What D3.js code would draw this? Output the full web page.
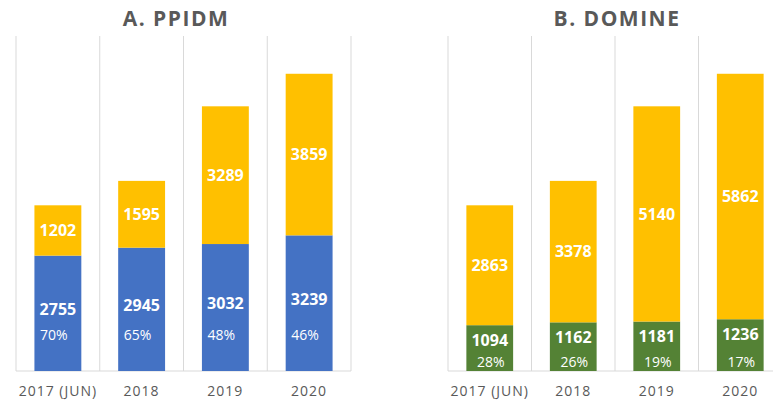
<!DOCTYPE html>
<html>
<head>
<meta charset="utf-8">
<script src="https://cdn.jsdelivr.net/npm/d3@7"></script>
<style>
  body { margin: 0; background: #fff; }
  text { font-family: "Open Sans", sans-serif; }
</style>
</head>
<body>
<div id="chart"></div>
<script>
var years = ["2017 (JUN)", "2018", "2019", "2020"];

// A. PPIDM
var ppidmBase = [2755, 2945, 3032, 3239];
var ppidmTop = [1202, 1595, 3289, 3859];
var ppidmPct = ["70%", "65%", "48%", "46%"];

// B. DOMINE
var domineBase = [1094, 1162, 1181, 1236];
var domineTop = [2863, 3378, 5140, 5862];
var dominePct = ["28%", "26%", "19%", "17%"];

var W = 773, H = 400;
var svg = d3.select("#chart").append("svg")
  .attr("width", W)
  .attr("height", H);

var y = d3.scaleLinear().domain([0, 8000]).range([371, 36]);

function panel(opt) {
  var g = svg.append("g");
  var x = d3.scaleBand().domain(years).range(opt.range);
  var bw = x.bandwidth();

  // vertical gridlines at band edges
  var edges = years.map(function(d) { return x(d); }).concat([opt.range[1]]);
  g.selectAll("line.grid").data(edges)
    .enter().append("line")
    .attr("class", "grid")
    .attr("x1", function(d) { return d; })
    .attr("x2", function(d) { return d; })
    .attr("y1", y(8000))
    .attr("y2", y(0))
    .attr("stroke", "#d9d9d9")
    .attr("stroke-width", 1);

  g.append("line")
    .attr("x1", opt.range[0]).attr("x2", opt.range[1])
    .attr("y1", y(0)).attr("y2", y(0))
    .attr("stroke", "#d9d9d9");

  var rows = years.map(function(d, i) {
    return { cat: d, base: opt.base[i], top: opt.top[i], pct: opt.pct[i] };
  });

  // bottom segment
  g.selectAll("rect.base").data(rows)
    .enter().append("rect")
    .attr("class", "base")
    .attr("x", function(d) { return x(d.cat) + bw * 0.22; })
    .attr("width", bw * 0.56)
    .attr("y", function(d) { return y(d.base); })
    .attr("height", function(d) { return y(0) - y(d.base); })
    .attr("fill", opt.color);

  // top segment
  g.selectAll("rect.top").data(rows)
    .enter().append("rect")
    .attr("class", "top")
    .attr("x", function(d) { return x(d.cat) + bw * 0.22; })
    .attr("width", bw * 0.56)
    .attr("y", function(d) { return y(d.base + d.top); })
    .attr("height", function(d) { return y(d.base) - y(d.base + d.top); })
    .attr("fill", "#ffc000");

  var cx = function(d) { return x(d.cat) + bw / 2; };

  g.selectAll("text.topv").data(rows)
    .enter().append("text")
    .attr("x", cx)
    .attr("y", function(d) { return (y(d.base) + y(d.base + d.top)) / 2; })
    .attr("dy", "0.35em")
    .attr("text-anchor", "middle")
    .attr("fill", "#fff")
    .attr("font-weight", "bold")
    .attr("font-size", "16px")
    .text(function(d) { return d.top; });

  g.selectAll("text.basev").data(rows)
    .enter().append("text")
    .attr("x", cx)
    .attr("y", function(d) { return opt.valY(d); })
    .attr("dy", "0.35em")
    .attr("text-anchor", "middle")
    .attr("fill", "#fff")
    .attr("font-weight", "bold")
    .attr("font-size", "16px")
    .text(function(d) { return d.base; });

  g.selectAll("text.pct").data(rows)
    .enter().append("text")
    .attr("x", function(d) { return cx(d) + opt.pctDx; })
    .attr("y", opt.pctY)
    .attr("dy", "0.35em")
    .attr("text-anchor", "middle")
    .attr("fill", "#fff")
    .attr("font-size", "14px")
    .text(function(d) { return d.pct; });

  // category labels
  g.selectAll("text.cat").data(years)
    .enter().append("text")
    .attr("x", function(d) { return x(d) + bw / 2; })
    .attr("y", 391)
    .attr("dy", "0.35em")
    .attr("text-anchor", "middle")
    .attr("fill", "#595959")
    .attr("font-size", "14px")
    .attr("letter-spacing", "1px")
    .text(function(d) { return d; });

  g.append("text")
    .attr("x", opt.titleX)
    .attr("y", 19)
    .attr("dy", "0.35em")
    .attr("text-anchor", "middle")
    .attr("fill", "#595959")
    .attr("font-weight", "bold")
    .attr("font-size", "21px")
    .attr("letter-spacing", "1.5px")
    .text(opt.title);
}

panel({
  title: "A. PPIDM", titleX: 176,
  range: [16, 351],
  base: ppidmBase, top: ppidmTop, pct: ppidmPct,
  color: "#4472c4",
  valY: function(d) { return (y(0) + y(d.base)) / 2 - 4; },
  pctY: 335, pctDx: -4
});

panel({
  title: "B. DOMINE", titleX: 617,
  range: [448, 782],
  base: domineBase, top: domineTop, pct: dominePct,
  color: "#548235",
  valY: function(d) { return y(d.base) + 15; },
  pctY: 362, pctDx: 1
});
</script>
</body>
</html>
